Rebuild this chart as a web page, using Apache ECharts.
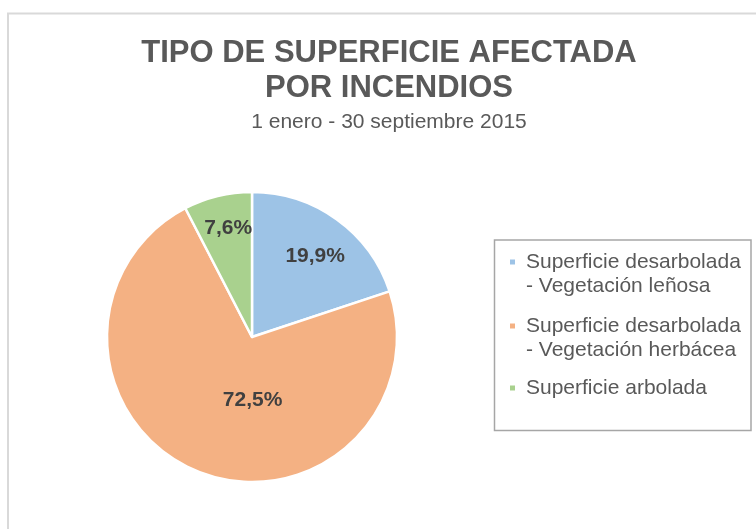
<!DOCTYPE html>
<html>
<head>
<meta charset="utf-8">
<script src="https://cdn.jsdelivr.net/npm/echarts@6/dist/echarts.min.js"></script>
<style>
html,body{margin:0;padding:0;background:#fff;}
#chart{width:756px;height:529px;}
</style>
</head>
<body>
<div id="chart"></div>
<script>
const titleText = 'TIPO DE SUPERFICIE AFECTADA\nPOR INCENDIOS';
const subtitleText = '1 enero - 30 septiembre 2015';
const categories = [
  'Superficie desarbolada\n- Vegetación leñosa',
  'Superficie desarbolada\n- Vegetación herbácea',
  'Superficie arbolada'
];
const values = [19.9, 72.5, 7.6];
const colors = ['#9dc3e6', '#f4b183', '#a9d18e'];
const labelOffsets = [[19, -20], [29, -7], [-6, -35]];
const legendPads = [[0, 0, 0, 5], [0, 0, 0, 5], [22, 0, 22, 5]];

const chart = echarts.init(document.getElementById('chart'), null, {renderer: 'canvas'});
const font = '"Liberation Sans", Arial, sans-serif';

chart.setOption({
  animation: false,
  backgroundColor: '#ffffff',
  title: {
    text: titleText,
    subtext: subtitleText,
    left: 389,
    textAlign: 'center',
    top: 36,
    padding: 0,
    itemGap: 5,
    textStyle: {fontFamily: font, fontSize: 31, fontWeight: 'bold', color: '#595959', lineHeight: 35},
    subtextStyle: {fontFamily: font, fontSize: 21, color: '#595959', lineHeight: 22}
  },
  legend: {
    orient: 'vertical',
    left: 508,
    top: 226,
    padding: 0,
    itemGap: -8,
    itemWidth: 7,
    itemHeight: 7,
    icon: 'rect',
    selectedMode: false,
    formatter: name => name.indexOf('\n') >= 0 ? '\n' + name : name,
    textStyle: {fontFamily: font, fontSize: 21, color: '#595959', lineHeight: 24},
    data: categories.map((c, i) => ({name: c, textStyle: {padding: legendPads[i]}}))
  },
  graphic: [
    {type: 'line', shape: {x1: 8, y1: 13.5, x2: 8, y2: 529}, style: {stroke: '#d9d9d9', lineWidth: 2}, silent: true},
    {type: 'line', shape: {x1: 7, y1: 13.5, x2: 756, y2: 13.5}, style: {stroke: '#d9d9d9', lineWidth: 2}, silent: true},
    {type: 'rect', shape: {x: 494.5, y: 240, width: 256.5, height: 190.5}, style: {fill: 'none', stroke: '#a6a6a6', lineWidth: 1.5}, silent: true}
  ],
  series: [{
    type: 'pie',
    center: [252, 337],
    radius: [0, 145],
    startAngle: 90,
    clockwise: true,
    avoidLabelOverlap: false,
    itemStyle: {borderColor: '#ffffff', borderWidth: 2.5},
    label: {
      show: true,
      position: 'inside',
      fontFamily: font,
      fontSize: 21,
      fontWeight: 'bold',
      color: '#404040',
      formatter: p => p.value.toFixed(1).replace('.', ',') + '%'
    },
    labelLine: {show: false},
    emphasis: {disabled: true},
    data: categories.map((c, i) => ({
      name: c,
      value: values[i],
      itemStyle: {color: colors[i]},
      label: {offset: labelOffsets[i]}
    }))
  }]
});
</script>
</body>
</html>
